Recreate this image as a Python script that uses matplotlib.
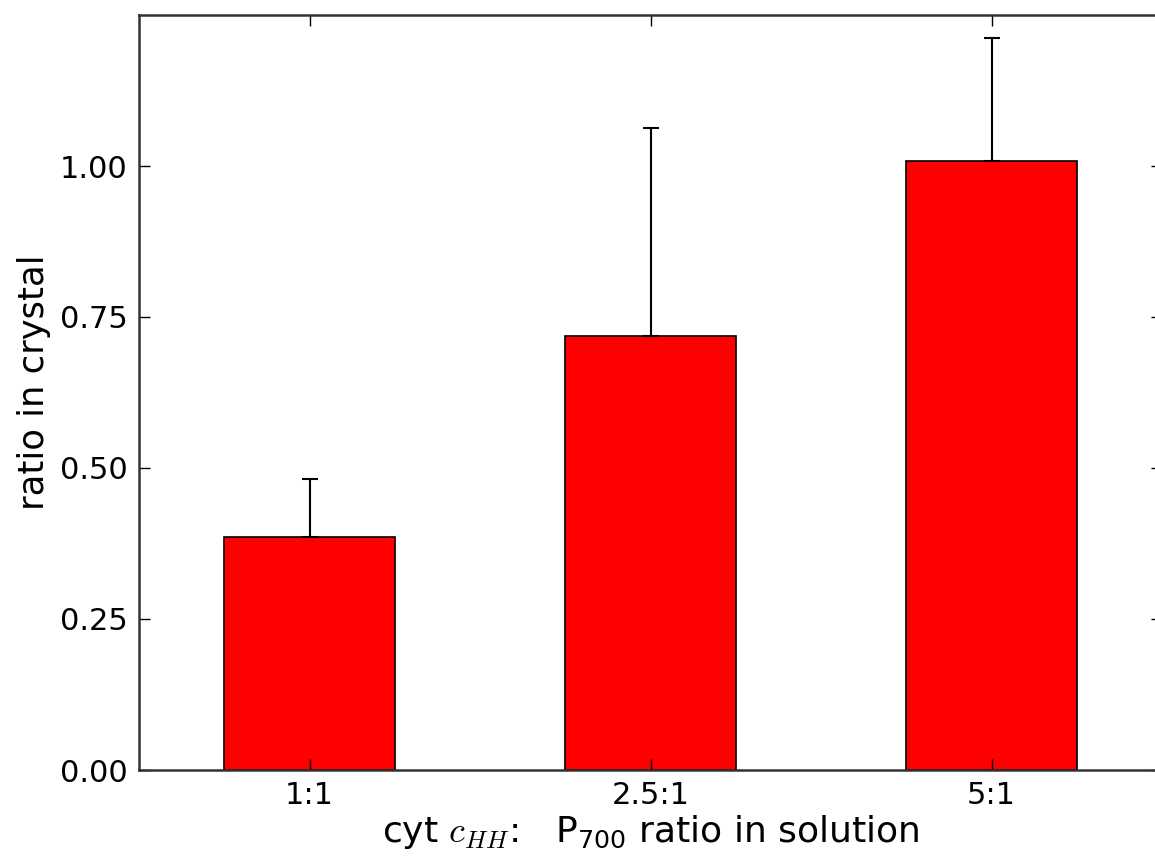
import numpy as np
import matplotlib
matplotlib.use("Agg")
import matplotlib.pyplot as plt

ratios = ["1:1", "2.5:1", "5:1"]
ratio_in_crystal = [0.386, 0.719, 1.008]
err_up = [0.096, 0.344, 0.204]

plt.rcParams['mathtext.fontset'] = 'cm'

fig = plt.figure(figsize=(11.55, 8.57), dpi=100)
ax = fig.add_axes([139/1155, 1 - 770/857, (1162 - 139)/1155, (770 - 15)/857])

x = np.arange(len(ratios))
ax.bar(x, ratio_in_crystal, width=0.5, color='red', edgecolor='black', linewidth=1.2,
       yerr=[np.zeros(len(err_up)), err_up],
       error_kw=dict(ecolor='black', elinewidth=1.5, capsize=6, capthick=1.5))

ax.set_xlim(-0.5, 2.5)
ax.set_ylim(0, 1.25)
ax.set_xticks(x)
ax.set_xticklabels(ratios)
ax.set_yticks([0, 0.25, 0.5, 0.75, 1.0])
ax.set_yticklabels(["0.00", "0.25", "0.50", "0.75", "1.00"])
ax.tick_params(direction='in', length=8, width=1, labelsize=22, top=True, right=True, pad=8)
for s in ax.spines.values():
    s.set_linewidth(1.8)
    s.set_color('#333333')

ax.set_ylabel("ratio in crystal", fontsize=25.5)
ax.yaxis.set_label_coords(-0.086, 0.514)
ax.set_xlabel(r"cyt $c_{HH}$:   $\mathregular{P_{700}}$ ratio in solution", fontsize=26, labelpad=2)

fig.savefig("out.png", dpi=100)
